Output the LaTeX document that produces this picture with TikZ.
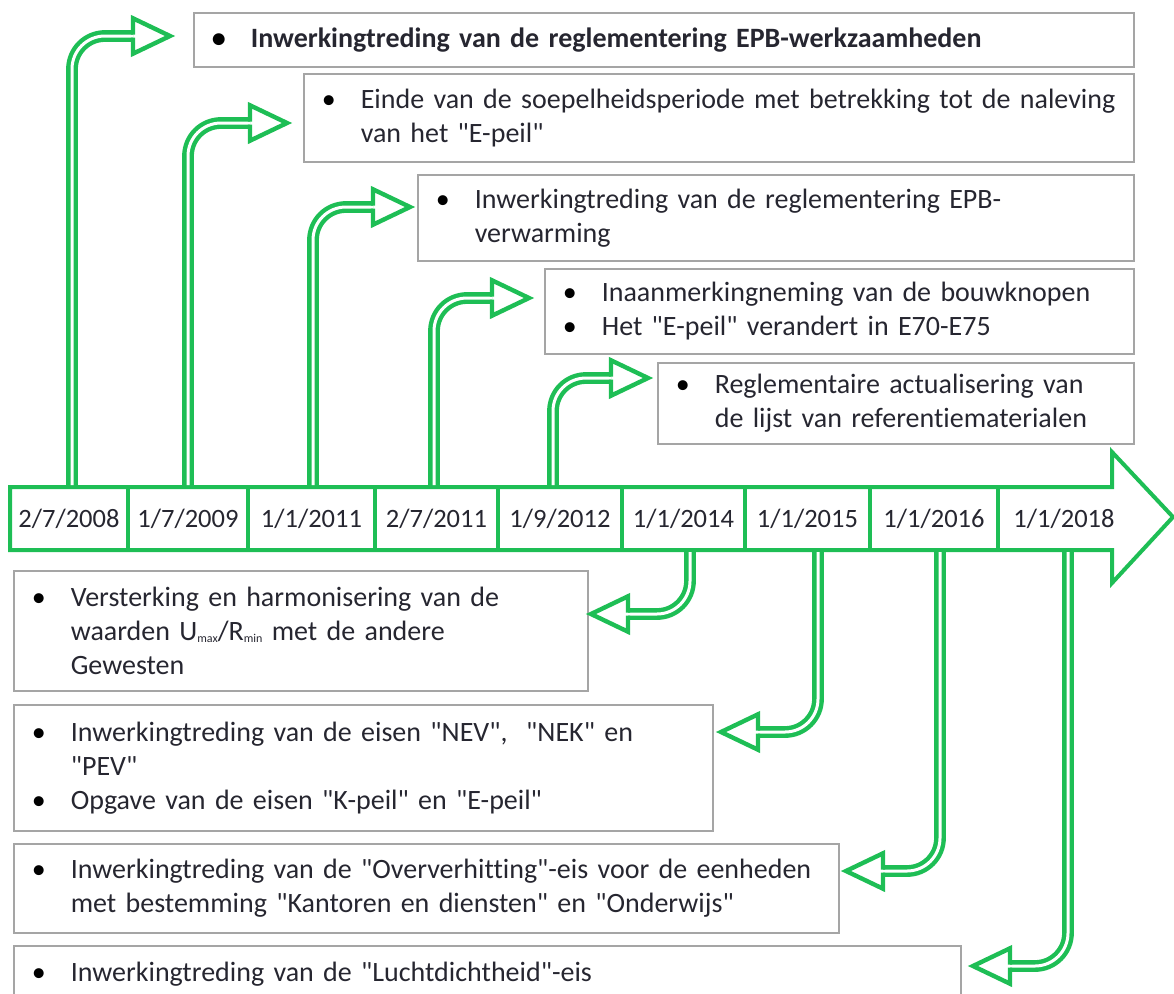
\documentclass[tikz,border=0pt]{standalone}
\usepackage{fontspec}
\setmainfont{Carlito}[Ligatures={TeXOff,NoCommon}]
\usetikzlibrary{calc}
\definecolor{tlgreen}{RGB}{30,190,85}
\definecolor{txt}{RGB}{38,38,48}
\definecolor{boxgray}{RGB}{165,165,165}
\newcommand\bl{\hspace*{18pt}\makebox[39pt][l]{\textcolor{black}{\textbullet}}}
\newcommand\ind{\hspace*{57pt}}
\newcommand\sbs[1]{\raisebox{-2pt}{\fontsize{12}{12}\selectfont #1}}
\newcommand\armup[4]{%
  \coordinate (tmpx) at (#2,0);
  \coordinate (tmptip) at (#3,#4);
  \draw[shaft] (#1.north -| tmpx) |- ($(tmptip)+(-37,0)$);
  \draw[head] ($(tmptip)+(-37,-3.7)$) -- ++(0,-14) -- (tmptip) -- ++(-37,17.7) -- ++(0,-14);
}
\newcommand\armdown[4]{%
  \coordinate (tmpx) at (#2,0);
  \coordinate (tmptip) at (#3,#4);
  \draw[shaft] (#1.south -| tmpx) |- ($(tmptip)+(37,0)$);
  \draw[head] ($(tmptip)+(37,-3.7)$) -- ++(0,-14) -- (tmptip) -- ++(37,17.7) -- ++(0,-14);
}
\begin{document}
\begin{tikzpicture}[x=1pt,y=-1pt,
  infobox/.style={draw=boxgray, line width=1.6pt, inner sep=0pt, anchor=north west, align=left, text=txt, font=\fontsize{28}{34}\selectfont},
  datecell/.style={draw=tlgreen, line width=4pt, inner sep=0pt, minimum height=63pt, text=txt, font=\fontsize{26.5}{34}\selectfont},
  shaft/.style={draw=tlgreen, line width=4.4pt, double=white, double distance=3pt, rounded corners=33pt},
  head/.style={draw=tlgreen, line width=4.4pt, line join=miter, line cap=rect}]
\useasboundingbox (0,0) rectangle (1174,993);

% upper boxes
\node[infobox, text width=940pt, minimum height=54pt] (b1) at (193,12) {\bfseries\bl Inwerkingtreding van de reglementering EPB-werkzaamheden};
\node[infobox, text width=830pt, minimum height=88pt] (b2) at (303,73) {\bl Einde van de soepelheidsperiode met betrekking tot de naleving\\\ind van het "E-peil"};
\node[infobox, text width=716pt, minimum height=86pt] (b3) at (417,174) {\bl Inwerkingtreding van de reglementering EPB-\\\ind verwarming};
\node[infobox, text width=589pt, minimum height=85pt] (b4) at (544,268) {\bl Inaanmerkingneming van de bouwknopen\\\bl Het "E-peil" verandert in E70-E75};
\node[infobox, text width=476pt, minimum height=81pt] (b5) at (657,362) {\bl Reglementaire actualisering van\\\ind de lijst van referentiematerialen};

% lower boxes
\node[infobox, text width=574pt, minimum height=120pt] (b6) at (13,570) {\bl Versterking en harmonisering van de\\\ind waarden U\sbs{max}/R\sbs{min} met de andere\\\ind Gewesten};
\node[infobox, text width=699pt, minimum height=126pt] (b7) at (13,704) {\bl Inwerkingtreding van de eisen "NEV",\ \ "NEK" en\\\ind "PEV"\\\bl Opgave van de eisen "K-peil" en "E-peil"};
\node[infobox, text width=825pt, minimum height=89pt] (b8) at (13,843) {\bl Inwerkingtreding van de "Oververhitting"-eis voor de eenheden\\\ind met bestemming "Kantoren en diensten" en "Onderwijs"};
\node[infobox, text width=947pt, minimum height=56pt] (b9) at (13,945) {\bl Inwerkingtreding van de "Luchtdichtheid"-eis};

% timeline block arrow
\draw[tlgreen, line width=4pt, line join=miter] (10,487) -- (1112,487) -- (1112,452) -- (1173,517) -- (1112,583) -- (1112,550) -- (10,550) -- cycle;
\node[datecell, minimum width=118pt] (d1) at (69,518.5) {2/7/2008};
\node[datecell, minimum width=120pt] (d2) at (188,518.5) {1/7/2009};
\node[datecell, minimum width=127pt] (d3) at (311.5,518.5) {1/1/2011};
\node[datecell, minimum width=123pt] (d4) at (436.5,518.5) {2/7/2011};
\node[datecell, minimum width=124pt] (d5) at (560,518.5) {1/9/2012};
\node[datecell, minimum width=123pt] (d6) at (683.5,518.5) {1/1/2014};
\node[datecell, minimum width=125pt] (d7) at (807.5,518.5) {1/1/2015};
\node[datecell, minimum width=128pt] (d8) at (934,518.5) {1/1/2016};
\node[datecell, draw=none, minimum width=100pt] (d9) at (1064,518.5) {1/1/2018};

% upper connectors
\armup{d1}{72}{170}{36}
\armup{d2}{188}{287}{123}
\armup{d3}{313}{410}{207}
\armup{d4}{434}{529}{298}
\armup{d5}{553}{648}{378}

% lower connectors
\armdown{d6}{690}{591}{614}
\armdown{d7}{818}{721}{732}
\armdown{d8}{940}{846}{871}
\armdown{d9}{1068}{973}{966}
\end{tikzpicture}
\end{document}
